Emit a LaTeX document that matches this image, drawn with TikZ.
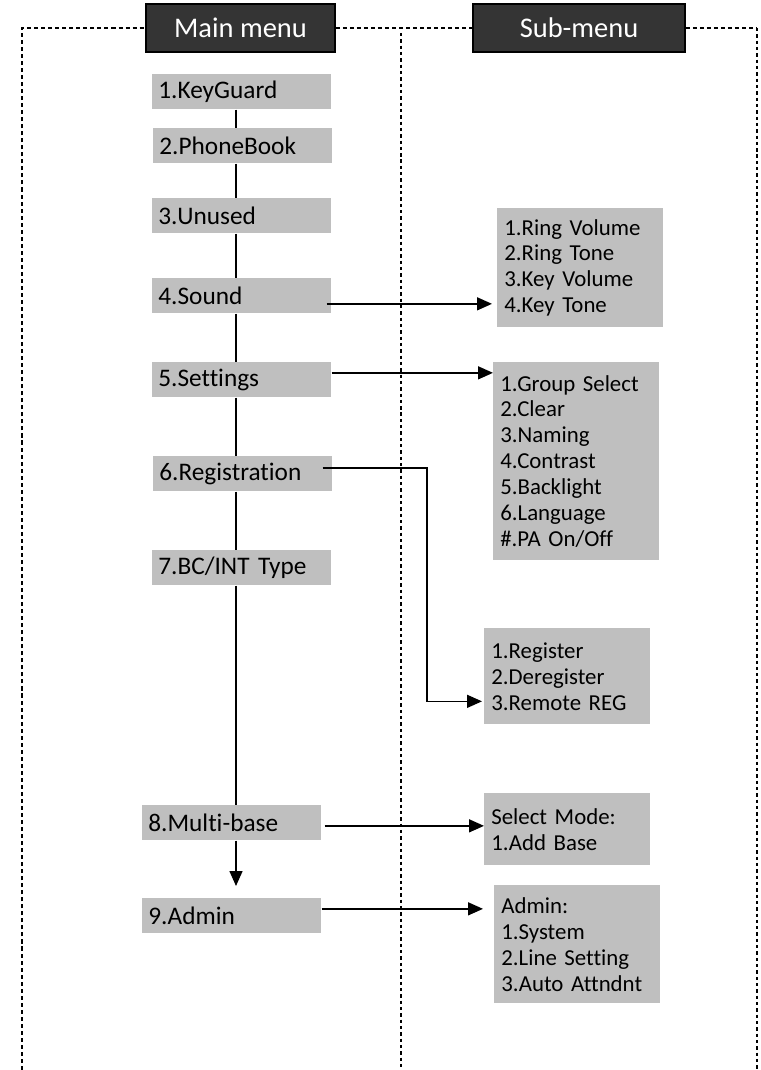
\documentclass[tikz,border=0pt]{standalone}
\usepackage{fontspec}
\setmainfont{Carlito}[Ligatures={NoCommon}]
\usepackage{xcolor}
\usepackage{tikz}
\usetikzlibrary{arrows.meta, calc}

\definecolor{boxgray}{RGB}{191,191,191}
\definecolor{headgray}{RGB}{52,52,52}

\begin{document}
\begin{tikzpicture}[x=0.02cm, y=-0.02cm]

\tikzstyle{headbox} = [rectangle, draw=black, line width=0.9pt, fill=headgray, text=white, minimum height=0.96cm, inner sep=0pt, font=\fontsize{16.2}{18}\selectfont]
\tikzstyle{mainbox} = [rectangle, fill=boxgray, text width=3.34cm, inner xsep=0.12cm, inner ysep=0pt, minimum height=0.7cm, align=left, font=\fontsize{14.4}{16}\selectfont]
\tikzstyle{subbox} = [rectangle, fill=boxgray, text width=3.04cm, inner xsep=0.14cm, inner ysep=0pt, align=left, font=\fontsize{13}{14.74}\selectfont]
\tikzstyle{frameline} = [line width=0.8pt, dash pattern=on 2.3pt off 1.7pt]
\tikzstyle{splitline} = [line width=1.3pt, dash pattern=on 1.9pt off 1.7pt]
\tikzstyle{spine} = [line width=0.75pt]
\tikzstyle{arrow} = [line width=0.85pt, -{Triangle[length=0.3cm, width=0.26cm]}]

\useasboundingbox (0,0) rectangle (760,1070);

% headers and frame
\node (hm) [headbox, minimum width=3.78cm] at (240.5,28) {Main menu};
\node (hs) [headbox, minimum width=4.24cm] at (579,28) {Sub-menu};

\coordinate (tl) at (22,28);
\coordinate (tr) at (757,28);
\coordinate (bl) at (22,1070);
\coordinate (br) at (757,1070);
\coordinate (mt) at (401,33);
\coordinate (mb) at (401,1070);

\draw [frameline] (bl) -- (tl) -- (hm.west);
\draw [frameline] (hm.east) -- (hs.west);
\draw [frameline] (hs.east) -- (tr);
\draw [splitline] (mt) -- (mb);
\draw [splitline] (tr) -- (br);

% main menu
\node (m1) [mainbox, anchor=north west] at (152,74) {1.KeyGuard};
\node (m2) [mainbox, anchor=north west] at (153,128) {2.PhoneBook};
\node (m3) [mainbox, anchor=north west] at (152,198) {3.Unused};
\node (m4) [mainbox, anchor=north west] at (152,278) {4.Sound};
\node (m5) [mainbox, anchor=north west] at (152,362) {5.Settings};
\node (m6) [mainbox, anchor=north west] at (153,456) {6.Registration};
\node (m7) [mainbox, anchor=north west] at (152,550) {7.BC/INT Type};
\node (m8) [mainbox, anchor=north west] at (142,805) {8.Multi-base};
\node (m9) [mainbox, anchor=north west] at (142,898) {9.Admin};

% sub-menus
\node (ring) [subbox, anchor=north west, minimum height=2.38cm] at (497,208) {1.Ring Volume\\2.Ring Tone\\3.Key Volume\\4.Key Tone};
\node (grp) [subbox, anchor=north west, minimum height=3.96cm] at (493,362) {1.Group Select\\2.Clear\\3.Naming\\4.Contrast\\5.Backlight\\6.Language\\\#.PA On/Off};
\node (reg) [subbox, anchor=north west, minimum height=1.92cm] at (484,628) {1.Register\\2.Deregister\\3.Remote REG};
\node (mode) [subbox, anchor=north west, minimum height=1.44cm] at (484,793) {Select Mode:\\1.Add Base};
\node (adm) [subbox, anchor=north west, minimum height=2.36cm] at (494,885) {Admin:\\1.System\\2.Line Setting\\3.Auto Attndnt};

% spine
\coordinate (sp) at (236,0);
\draw [spine] (m1.south -| sp) -- (m2.north -| sp);
\draw [spine] (m2.south -| sp) -- (m3.north -| sp);
\draw [spine] (m3.south -| sp) -- (m4.north -| sp);
\draw [spine] (m4.south -| sp) -- (m5.north -| sp);
\draw [spine] (m5.south -| sp) -- (m6.north -| sp);
\draw [spine] (m6.south -| sp) -- (m7.north -| sp);
\draw [spine] (m7.south -| sp) -- (m8.north -| sp);
\draw [arrow, shorten >=0.24cm] (m8.south -| sp) -- (m9.north -| sp);

% links to sub-menus
\coordinate (a4) at ($(m4.east)+(-5,8)$);
\coordinate (a5) at ($(m5.east)+(0,-7)$);
\coordinate (a6) at ($(m6.east)+(-10,-6)$);
\coordinate (a8) at ($(m8.east)+(3,3)$);
\coordinate (a9) at ($(m9.east)+(0,-7)$);
\coordinate (b6) at ($(reg.west)+(-2,25)$);
\coordinate (bend) at (427,0);

\draw [arrow, shorten >=0.1cm] (a4) -- (a4 -| ring.west);
\draw [arrow] (a5) -- (a5 -| grp.west);
\draw [arrow] (a6) -- (a6 -| bend) -- (bend |- b6) -- (b6);
\draw [arrow] (a8) -- (a8 -| mode.west);
\draw [arrow, shorten >=0.22cm] (a9) -- (a9 -| adm.west);

\end{tikzpicture}
\end{document}
